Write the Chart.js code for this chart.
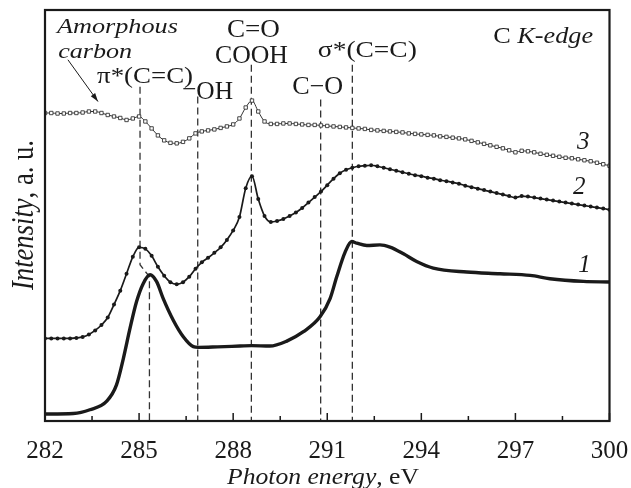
<!DOCTYPE html>
<html><head><meta charset="utf-8">
<script src="https://cdn.jsdelivr.net/npm/chart.js@4/dist/chart.umd.min.js"></script>
<style>html,body{margin:0;padding:0;background:#fff}#wrap{width:631px;height:488px}</style>
</head><body><div id="wrap"><canvas id="c" width="631" height="488"></canvas></div>
<script>
// ---- data (x: photon energy, eV; y: intensity, arbitrary units) ----
// curve 1 (thick line)
const energy1 = [282.0, 282.9, 283.43, 283.97, 284.28, 284.5, 284.71, 284.92, 285.13, 285.35, 285.56, 285.77, 286.09, 286.41, 286.73, 286.89, 287.5, 288.22, 288.59, 289.17, 289.71, 290.24, 290.77, 291.09, 291.3, 291.57, 291.78, 291.94, 292.26, 292.68, 293.0, 293.43, 293.85, 294.38, 295.45, 296.51, 297.47, 298.1, 299.17, 300.0];
const intensity1 = [7, 7.5, 11.3, 20, 36.3, 63, 93, 120, 138, 147, 140, 123, 101.3, 84.7, 74.7, 74, 74.5, 75.3, 75.7, 75.3, 80.3, 89.7, 104.7, 123, 144.7, 169.7, 180.3, 178.7, 176.3, 177, 174.7, 168, 160.3, 153.7, 149.7, 148, 146.3, 143, 140.3, 139.7];

// energies at which curves 2 and 3 were read
const energyGrid = [282.0, 282.2, 282.4, 282.6, 282.8, 283.0, 283.2, 283.4, 283.6, 283.8,
  284.0, 284.2, 284.4, 284.6, 284.8, 285.0, 285.2, 285.4, 285.6, 285.8,
  286.0, 286.2, 286.4, 286.6, 286.8, 287.0, 287.2, 287.4, 287.6, 287.8,
  288.0, 288.2, 288.4, 288.6, 288.8, 289.0, 289.2, 289.4, 289.6, 289.8,
  290.0, 290.2, 290.4, 290.6, 290.8, 291.0, 291.2, 291.4, 291.6, 291.8,
  292.0, 292.2, 292.4, 292.6, 292.8, 293.0, 293.2, 293.4, 293.6, 293.8,
  294.0, 294.2, 294.4, 294.6, 294.8, 295.0, 295.2, 295.4, 295.6, 295.8,
  296.0, 296.2, 296.4, 296.6, 296.8, 297.0, 297.2, 297.4, 297.6, 297.8,
  298.0, 298.2, 298.4, 298.6, 298.8, 299.0, 299.2, 299.4, 299.6, 299.8, 300.0];

// curve 2 (filled dots)
const intensity2 = [83, 83, 83, 83, 83, 83.5, 84.5, 87, 91, 96.5,
  104, 117, 131, 148, 165, 174.5, 173, 166, 155, 146,
  139.5, 137.5, 139.5, 145, 153, 159.5, 164, 169, 174.5, 182,
  191.5, 205, 234, 246, 223, 206, 200, 201, 203, 206,
  209.5, 214, 219.5, 225, 230.5, 237, 243.5, 249, 252.5, 254.5,
  256, 256.5, 257, 256, 254.5, 253, 251.5, 250, 248.5, 247,
  246, 244.5, 243.5, 242, 241, 239.7, 238.5, 236.5, 235, 233.5,
  232, 230.5, 229, 227.5, 226, 224.5, 226, 225.5, 224.5, 223.5,
  222.5, 221.5, 220.5, 219.5, 218.5, 217.5, 216.5, 215.5, 214.5, 213.5, 212.3];

// curve 3 (open squares)
const intensity3 = [309.5, 309.5, 309, 309, 309.5, 309.5, 310, 311, 311, 309.5,
  307.5, 306, 304.5, 302.5, 304, 306, 301, 294, 287, 282,
  279.5, 279, 280.5, 284, 289, 291, 292, 293, 294.5, 296,
  298, 304, 315, 322, 311, 301, 298.5, 298.5, 299, 299,
  298.5, 298, 297.5, 297.5, 297, 296.5, 296, 295.5, 295, 294.5,
  294, 293.5, 292.5, 292, 291.5, 291, 290.5, 290, 289, 288.5,
  288, 287.5, 287, 286, 285.5, 284.7, 284, 283, 281.5, 280,
  278.5, 277, 275.5, 274, 272, 270, 271.5, 271, 270, 268.5,
  267.5, 266.5, 265.5, 264.5, 264, 263, 262, 261, 259.5, 258, 256.5];

// dashed guide lines (energy, top; they run down to the axis)
const guideEnergy = [286.87, 288.58, 290.79, 291.8];
const guideTop = [326, 358, 323, 358];
// pi* guide: bends from curve 2 peak to curve 1 peak
const piGuideEnergy = [285.03, 285.03, 285.33, 285.33];
const piGuideIntensity = [336, 157, 145, 0];

const tickValues = [282, 285, 288, 291, 294, 297, 300];
const tickLabels = ['282', '285', '288', '291', '294', '297', '300'];
const minorTickValues = [283.5, 286.5, 289.5, 292.5, 295.5, 298.5];

const seriesNames = ['1', '2', '3'];

// ---- build chart ----
const toXY = (xs, ys) => xs.map((x, i) => ({x, y: ys[i]}));
const SERIF = '"Liberation Serif", "Times New Roman", serif';
Chart.defaults.font.family = SERIF;
Chart.defaults.color = '#1a1a1a';

const datasets = [
  {label: seriesNames[0], data: toXY(energy1, intensity1), borderColor: '#1a1a1a', borderWidth: 3.4,
   pointRadius: 0, cubicInterpolationMode: 'monotone', order: 1},
  {label: seriesNames[1], data: toXY(energyGrid, intensity2), borderColor: '#1a1a1a', borderWidth: 1.7,
   pointRadius: 2, pointBackgroundColor: '#1a1a1a', pointBorderWidth: 0, cubicInterpolationMode: 'monotone', order: 2},
  {label: seriesNames[2], data: toXY(energyGrid, intensity3), borderColor: '#333', borderWidth: 1,
   pointStyle: 'rect', pointRadius: 2.4, pointBackgroundColor: '#fff', pointBorderColor: '#333', pointBorderWidth: 0.9,
   cubicInterpolationMode: 'monotone', order: 3},
  {label: 'pi', data: toXY(piGuideEnergy, piGuideIntensity), borderColor: '#333', borderWidth: 1.3,
   borderDash: [7, 4], pointRadius: 0, tension: 0, order: 5}
];
guideEnergy.forEach((e, i) => {
  datasets.push({label: 'g' + i, data: [{x: e, y: guideTop[i]}, {x: e, y: 0}], borderColor: '#333', borderWidth: 1.3,
    borderDash: [7, 4], pointRadius: 0, tension: 0, order: 5});
});

// parts: [{t: text, i: italic?, dy: vertical shift}]
function richText(ctx, parts, x, y, size, targetW, align) {
  const fonts = parts.map(p => (p.i ? 'italic ' : '') + size + 'px ' + SERIF);
  let w = 0; const ws = [];
  parts.forEach((p, k) => { ctx.font = fonts[k]; const m = ctx.measureText(p.t).width; ws.push(m); w += m; });
  const sx = targetW ? targetW / w : 1;
  ctx.save();
  ctx.translate(x, y);
  ctx.scale(sx, 1);
  let cx = align === 'center' ? -w / 2 : 0;
  ctx.textBaseline = 'alphabetic';
  ctx.textAlign = 'left';
  parts.forEach((p, k) => { ctx.font = fonts[k]; ctx.fillText(p.t, cx, p.dy || 0); cx += ws[k]; });
  ctx.restore();
}

const decor = {
  id: 'decor',
  afterDraw(chart) {
    const {ctx, chartArea: a, scales: {x, y}} = chart;
    const X = v => x.getPixelForValue(v), Y = v => y.getPixelForValue(v);
    ctx.save();
    ctx.fillStyle = '#1a1a1a'; ctx.strokeStyle = '#1a1a1a';
    // frame
    ctx.lineWidth = 2.2;
    ctx.strokeRect(a.left, a.top, a.right - a.left, a.bottom - a.top);
    // inward ticks
    ctx.lineWidth = 1.5;
    ctx.beginPath();
    tickValues.forEach(v => { ctx.moveTo(X(v), a.bottom); ctx.lineTo(X(v), a.bottom - 8); });
    minorTickValues.forEach(v => { ctx.moveTo(X(v), a.bottom); ctx.lineTo(X(v), a.bottom - 5); });
    ctx.stroke();
    // annotations
    richText(ctx, [{t: 'Amorphous', i: 1}], X(282.38), Y(390), 22, 121);
    richText(ctx, [{t: 'carbon', i: 1}], X(282.42), Y(365), 22, 74);
    richText(ctx, [{t: 'π*(C=C)'}], X(283.66), Y(340), 24, 96);
    richText(ctx, [{t: '−', dy: -2}, {t: 'OH'}], X(286.37), Y(324), 25, 51);
    richText(ctx, [{t: 'C=O'}], X(287.8), Y(386), 25, 53);
    richText(ctx, [{t: 'COOH'}], X(287.42), Y(360), 25, 73);
    richText(ctx, [{t: 'C−O'}], X(289.88), Y(329), 25, 51);
    richText(ctx, [{t: 'σ*(C=C)'}], X(290.7), Y(366), 24, 99);
    richText(ctx, [{t: 'C '}, {t: 'K-edge', i: 1}], X(296.29), Y(380), 24, 100);
    richText(ctx, [{t: '3', i: 1}], X(298.96), Y(273), 25);
    richText(ctx, [{t: '2', i: 1}], X(298.84), Y(228), 25);
    richText(ctx, [{t: '1', i: 1}], X(299.0), Y(150), 25);
    // arrow
    const x0 = X(282.73), y0 = Y(363), x1 = X(283.69), y1 = Y(321);
    ctx.lineWidth = 1;
    ctx.beginPath(); ctx.moveTo(x0, y0); ctx.lineTo(x1, y1); ctx.stroke();
    const ang = Math.atan2(y1 - y0, x1 - x0);
    ctx.beginPath();
    ctx.moveTo(x1, y1);
    ctx.lineTo(x1 - 9 * Math.cos(ang - 0.3), y1 - 9 * Math.sin(ang - 0.3));
    ctx.lineTo(x1 - 9 * Math.cos(ang + 0.3), y1 - 9 * Math.sin(ang + 0.3));
    ctx.closePath(); ctx.fill();
    // axis titles
    richText(ctx, [{t: 'Photon energy', i: 1}, {t: ', eV'}], 323, 484, 24, 192, 'center');
    ctx.save();
    ctx.translate(33, 215);
    ctx.rotate(-Math.PI / 2);
    richText(ctx, [{t: 'Intensity', i: 1}, {t: ', a. u.'}], 0, 0, 31, 150, 'center');
    ctx.restore();
    ctx.restore();
  }
};

new Chart(document.getElementById('c'), {
  type: 'line',
  data: {datasets},
  options: {
    responsive: false, animation: false, devicePixelRatio: 1,
    layout: {padding: {left: 45, right: 21.5, top: 10, bottom: 7}},
    plugins: {legend: {display: false}, tooltip: {enabled: false}},
    elements: {line: {tension: 0.3}},
    scales: {
      x: {type: 'linear', min: 282, max: 300,
        afterBuildTicks: s => { s.ticks = tickValues.map(v => ({value: v})); },
        afterFit: s => { s.paddingLeft = 0; s.paddingRight = 0; },
        ticks: {autoSkip: false, maxRotation: 0, padding: 15, color: '#1a1a1a',
          font: {size: 25, family: SERIF},
          callback: (v, i) => tickLabels[i]},
        grid: {display: false, drawTicks: false, tickLength: 0},
        border: {display: false}},
      y: {type: 'linear', min: 0, max: 413, display: false}
    }
  },
  plugins: [decor]
});
</script></body></html>
